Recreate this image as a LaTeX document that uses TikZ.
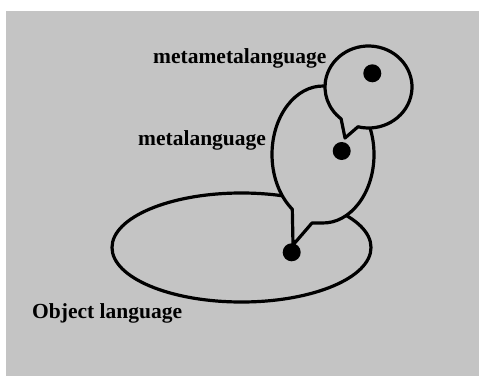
\documentclass[tikz,border=0pt]{standalone}
\usepackage{fontspec}
\setmainfont{Liberation Serif}
\usepackage{tikz}
\usetikzlibrary{shapes.geometric}

\definecolor{bg}{gray}{0.77}
\tikzset{lang/.style={draw=black,line width=3.2pt,fill=bg,line join=round},
  elem/.style={circle,fill=black,inner sep=0pt,minimum size=18pt},
  lbl/.style={font=\fontsize{21.5}{24}\selectfont\bfseries,inner sep=0pt,anchor=base west}}

\begin{document}
\begin{tikzpicture}[x=1pt,y=1pt]
\useasboundingbox (0,0) rectangle (479,376);
\fill[bg] (6,0) rectangle (479,365);

% object language, then the two bubbles stacked on it
\node (OL) [lang,ellipse,inner sep=0pt,minimum width=259pt,minimum height=109pt] at (241.5,128.5) {};
\draw[lang] (323,221.5) ++(269:51 and 68.5) arc[start angle=269,end angle=593,x radius=51,y radius=68.5] -- (293,131) -- (312,153) -- cycle;
\draw[lang] (368.5,289) ++(256:43.5 and 41) arc[start angle=256,end angle=591,x radius=43.5,y radius=41] -- (345,238) -- cycle;

\node (E1) [elem] at (291.7,123.7) {};
\node (E2) [elem] at (341.7,225) {};
\node (E3) [elem] at (372.3,302.7) {};

\node (L1) [lbl] at (32,58) {Object language};
\node (L2) [lbl] at (138,231) {metalanguage};
\node (L3) [lbl] at (153,313) {metametalanguage};
\end{tikzpicture}
\end{document}
